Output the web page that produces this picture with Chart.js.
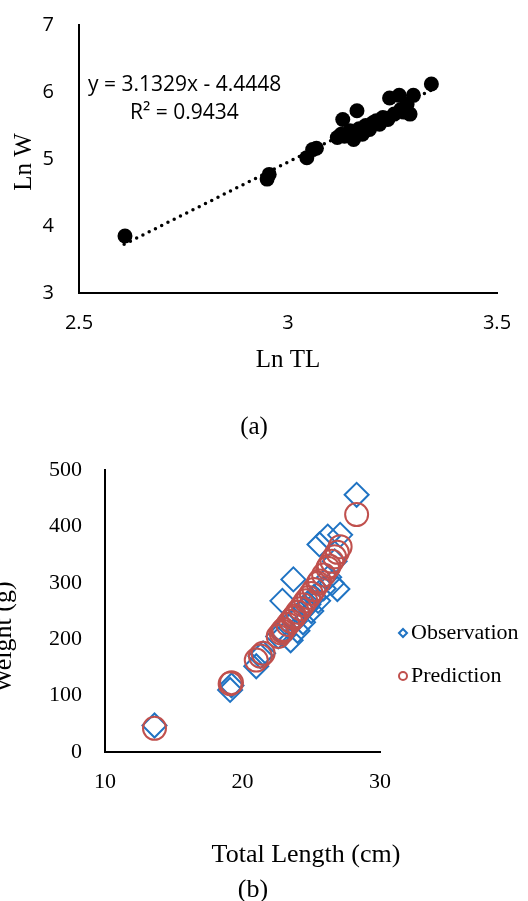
<!DOCTYPE html>
<html>
<head>
<meta charset="utf-8">
<script src="https://cdn.jsdelivr.net/npm/chart.js@4"></script>
<style>
  html, body { margin: 0; padding: 0; background: #fff; }
  #wrap { position: relative; width: 528px; height: 901px; overflow: hidden; }
  .box { position: absolute; left: 0; width: 528px; }
</style>
</head>
<body>
<div id="wrap">
  <div class="box" style="top:0;height:440px"><canvas id="chartA"></canvas></div>
  <div class="box" style="top:440px;height:461px"><canvas id="chartB"></canvas></div>
</div>
<script>
// (a) log-log length-weight
const lnTL = [2.610, 2.950, 2.955, 3.045, 3.059, 3.068, 3.118, 3.127, 3.131, 3.135, 3.148, 3.157,
  3.165, 3.170, 3.178, 3.186, 3.195, 3.203, 3.211, 3.219, 3.227, 3.239, 3.243, 3.254,
  3.266, 3.270, 3.277, 3.285, 3.292, 3.300, 3.343];
const lnW = [3.85, 4.70, 4.77, 5.02, 5.14, 5.16, 5.32, 5.37, 5.59, 5.34, 5.42, 5.29,
  5.72, 5.45, 5.37, 5.50, 5.44, 5.54, 5.57, 5.52, 5.62, 5.59, 5.91, 5.67,
  5.95, 5.74, 5.70, 5.82, 5.67, 5.95, 6.12];
const trendX = [2.608, 3.347];
const trendY = [3.726, 6.041];
const ticksA_x = [2.5, 3, 3.5];
const ticksA_y = [3, 4, 5, 6, 7];

// (b) observed vs predicted weight
const totalLength = [13.6, 19.1, 19.2, 21.0, 21.3, 21.5, 22.6, 22.8, 22.9, 23.0, 23.3, 23.5,
  23.7, 23.8, 24.0, 24.2, 24.4, 24.6, 24.8, 25.0, 25.2, 25.5, 25.6, 25.9,
  26.2, 26.3, 26.5, 26.7, 26.9, 27.1, 28.3];
const observed = [47, 110, 118, 152, 170, 175, 205, 215, 268, 208, 225, 198,
  306, 232, 215, 245, 230, 255, 262, 250, 275, 268, 368, 290,
  382, 310, 299, 338, 289, 385, 456];
const predicted = [42, 121, 123, 163, 170, 175, 205, 211, 214, 217, 226, 232,
  238, 241, 248, 254, 261, 268, 274, 281, 288, 299, 303, 314,
  326, 330, 338, 346, 354, 364, 421];
const ticksB_x = [10, 20, 30];
const ticksB_y = [0, 100, 200, 300, 400, 500];

const serif = '"Liberation Serif", "Times New Roman", serif';
const sans = '"Open Sans", sans-serif';

function pts(xs, ys) {
  return xs.map((x, i) => ({ x: x, y: ys[i] }));
}

function text(ctx, str, x, y, font, align, rot) {
  ctx.save();
  ctx.font = font;
  ctx.fillStyle = '#000';
  ctx.textAlign = align || 'center';
  ctx.textBaseline = 'middle';
  ctx.translate(x, y);
  if (rot) ctx.rotate(rot);
  ctx.fillText(str, 0, 0);
  ctx.restore();
}

// keep the plot area exactly where the layout padding puts it
function noPadY(s) { s.paddingTop = 0; s.paddingBottom = 0; }
function noPadX(s) { s.paddingLeft = 0; s.paddingRight = 0; }

const extrasA = {
  id: 'extrasA',
  afterDraw(chart) {
    const ctx = chart.ctx;
    text(ctx, 'y = 3.1329x - 4.4448', 88, 85, '21px ' + sans, 'left');
    text(ctx, 'R\u00B2 = 0.9434', 130, 113, '21px ' + sans, 'left');
    text(ctx, 'Ln TL', 288, 360, '25px ' + serif);
    text(ctx, 'Ln W', 24, 162, '25px ' + serif, 'center', -Math.PI / 2);
    text(ctx, '(a)', 254, 427, '25px ' + serif);
  }
};

const extrasB = {
  id: 'extrasB',
  afterDraw(chart) {
    const ctx = chart.ctx;
    text(ctx, 'Total Length (cm)', 306, 415, '26px ' + serif);
    text(ctx, '(b)', 253, 450, '26px ' + serif);
    text(ctx, 'Weight (g)', 4, 197, '26px ' + serif, 'center', -Math.PI / 2);
    // legend
    ctx.save();
    ctx.lineWidth = 2;
    ctx.strokeStyle = '#1F73C3';
    ctx.beginPath();
    ctx.moveTo(399, 193); ctx.lineTo(403, 189); ctx.lineTo(407, 193); ctx.lineTo(403, 197);
    ctx.closePath();
    ctx.stroke();
    ctx.strokeStyle = '#C0504D';
    ctx.beginPath();
    ctx.arc(403, 236, 4, 0, Math.PI * 2);
    ctx.stroke();
    ctx.restore();
    text(ctx, 'Observation', 411, 193, '22px ' + serif, 'left');
    text(ctx, 'Prediction', 411, 236, '22px ' + serif, 'left');
  }
};

new Chart(document.getElementById('chartA'), {
  type: 'scatter',
  data: {
    datasets: [
      {
        data: pts(lnTL, lnW),
        pointRadius: 7.5,
        pointHoverRadius: 7.5,
        pointBackgroundColor: '#000',
        pointBorderWidth: 0,
      },
      {
        type: 'line',
        data: pts(trendX, trendY),
        borderColor: '#000',
        borderWidth: 3.5,
        borderDash: [0, 7],
        borderCapStyle: 'round',
        pointRadius: 0,
        fill: false,
      },
    ],
  },
  options: {
    responsive: true,
    maintainAspectRatio: false,
    animation: false,
    layout: { padding: { top: 25, right: 31, left: 0, bottom: 0 } },
    plugins: { legend: { display: false }, tooltip: { enabled: false } },
    scales: {
      x: {
        type: 'linear',
        min: 2.5, max: 3.5,
        afterFit: (s) => { s.height = 147; noPadX(s); },
        afterBuildTicks: (s) => { s.ticks = ticksA_x.map(v => ({ value: v })); },
        grid: { display: false, drawTicks: false },
        border: { display: true, color: '#000', width: 2 },
        ticks: { color: '#000', font: { family: sans, size: 20 }, padding: 18,
          callback: (v) => String(v) },
      },
      y: {
        min: 3, max: 7,
        afterFit: (s) => { s.width = 79; noPadY(s); },
        afterBuildTicks: (s) => { s.ticks = ticksA_y.map(v => ({ value: v })); },
        grid: { display: false, drawTicks: false },
        border: { display: true, color: '#000', width: 2 },
        ticks: { color: '#000', font: { family: sans, size: 20 }, padding: 25,
          callback: (v) => String(v) },
      },
    },
  },
  plugins: [extrasA],
});

new Chart(document.getElementById('chartB'), {
  type: 'scatter',
  data: {
    datasets: [
      {
        label: 'Observation',
        data: pts(totalLength, observed),
        pointStyle: 'rectRot',
        pointRadius: 12,
        pointHoverRadius: 12,
        pointBackgroundColor: 'rgba(0,0,0,0)',
        pointBorderColor: '#1F73C3',
        pointBorderWidth: 2,
        order: 1,
      },
      {
        label: 'Prediction',
        data: pts(totalLength, predicted),
        pointStyle: 'circle',
        pointRadius: 11.5,
        pointHoverRadius: 11.5,
        pointBackgroundColor: 'rgba(0,0,0,0)',
        pointBorderColor: '#C0504D',
        pointBorderWidth: 2,
        order: 0,
      },
    ],
  },
  options: {
    responsive: true,
    maintainAspectRatio: false,
    animation: false,
    layout: { padding: { top: 30, right: 148, left: 0, bottom: 0 } },
    plugins: { legend: { display: false }, tooltip: { enabled: false } },
    scales: {
      x: {
        type: 'linear',
        min: 10, max: 30,
        afterFit: (s) => { s.height = 149; noPadX(s); },
        afterBuildTicks: (s) => { s.ticks = ticksB_x.map(v => ({ value: v })); },
        grid: { display: false, drawTicks: false },
        border: { display: true, color: '#000', width: 2 },
        ticks: { color: '#000', font: { family: serif, size: 22 }, padding: 17 },
      },
      y: {
        min: 0, max: 500,
        afterFit: (s) => { s.width = 105; noPadY(s); },
        afterBuildTicks: (s) => { s.ticks = ticksB_y.map(v => ({ value: v })); },
        grid: { display: false, drawTicks: false },
        border: { display: true, color: '#000', width: 2 },
        ticks: { color: '#000', font: { family: serif, size: 22 }, padding: 23 },
      },
    },
  },
  plugins: [extrasB],
});
</script>
</body>
</html>
